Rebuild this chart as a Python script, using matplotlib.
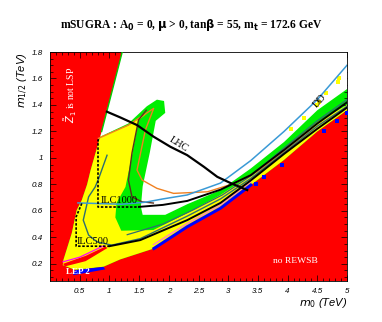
import numpy as np
import matplotlib
matplotlib.use("Agg")
import matplotlib.pyplot as plt

# --- region boundaries (m0, m1/2 in TeV) ---
# Z1-not-LSP edge (top to bottom)
edge_x = [1.216, 0.87, 0.684, 0.625, 0.535, 0.45, 0.367, 0.225, 0.215]
edge_y = [1.80, 1.20, 0.908, 0.80, 0.681, 0.606, 0.432, 0.228, 0.19]
# no-REWSB / LEP edge (left to right)
low_x = [0.215, 0.42, 0.90, 1.18, 1.75, 2.31, 2.87, 3.38, 3.94, 4.50, 5.00]
low_y = [0.19, 0.155, 0.178, 0.233, 0.316, 0.48, 0.62, 0.795, 0.985, 1.20, 1.36]

# white (too much relic density) region outline
white_x = [0.845, 1.32, 1.63, 1.80, 1.92, 1.94, 1.78, 1.68, 1.56, 1.53, 1.56, 1.94,
           2.31, 2.87, 3.38, 3.94, 4.50, 5.00, 5.00, 1.216, 0.87]
white_y = [1.16, 1.26, 1.39, 1.44, 1.43, 1.34, 1.28, 1.04, 0.785, 0.63, 0.57, 0.57,
           0.65, 0.757, 0.92, 1.12, 1.36, 1.52, 1.80, 1.80, 1.20]

# upper side of the yellow (WMAP) region, from the tongue down to the band
yel_x = [0.845, 1.32, 1.65, 1.49, 1.385, 1.27, 1.12, 1.10, 1.20, 1.74, 2.30, 2.87,
         3.38, 3.94, 4.50, 5.00]
yel_y = [1.16, 1.245, 1.34, 1.286, 1.03, 0.78, 0.66, 0.55, 0.45, 0.455, 0.58, 0.72,
         0.87, 1.07, 1.27, 1.40]

# LEP2 strip and red wedge in lower left
lep_x = [0.39, 0.93, 0.90, 0.42]
lep_y = [0.114, 0.158, 0.177, 0.152]
band_x = [0.22, 0.60, 0.93, 0.97, 0.60, 0.25]
band_y = [0.20, 0.26, 0.33, 0.32, 0.22, 0.18]
mag_x = [0.22, 0.50, 0.90]
mag_y = [0.215, 0.25, 0.335]

# contours
lhc_x = [0.958, 1.182, 1.465, 1.745, 2.027, 2.309, 2.590, 2.816, 3.04, 3.32]
lhc_y = [1.349, 1.306, 1.248, 1.160, 1.084, 1.021, 0.933, 0.857, 0.81, 0.757]
dd_x = [0.47, 1.2, 1.6, 1.9, 2.31, 2.87, 3.38, 3.94, 4.5, 5.0]
dd_y = [0.66, 0.65, 0.665, 0.69, 0.72, 0.81, 0.98, 1.20, 1.44, 1.70]
orange_x = [0.816, 1.32, 1.745, 1.605, 1.465, 1.55, 1.80, 2.08, 2.65, 3.10, 3.50, 3.94, 4.40]
orange_y = [1.148, 1.248, 1.374, 1.21, 0.908, 0.833, 0.77, 0.732, 0.744, 0.807, 0.90, 1.05, 1.22]
brown_x = [1.62, 1.49, 1.38, 1.32, 1.38, 1.55, 1.74]
brown_y = [1.36, 1.286, 1.037, 0.833, 0.706, 0.668, 0.659]
ilc1000_dx = [0.83, 0.816, 0.816, 1.50]
ilc1000_dy = [1.135, 1.135, 0.63, 0.63]
ilc1000_x = [1.50, 1.90, 2.31, 2.87, 3.38, 3.94, 4.50, 5.00]
ilc1000_y = [0.63, 0.645, 0.675, 0.76, 0.87, 1.06, 1.26, 1.42]
ilc500_dx = [0.535, 0.44, 0.44, 1.00]
ilc500_dy = [0.656, 0.555, 0.333, 0.333]
ilc500_x = [1.00, 1.52, 2.31, 2.87, 3.38, 3.94, 4.50, 5.00]
ilc500_y = [0.333, 0.379, 0.53, 0.66, 0.83, 1.03, 1.22, 1.38]
teal_x = [0.96, 0.82, 0.76, 0.65, 0.56, 0.65, 0.79, 1.04, 1.52, 2.31, 2.87, 3.38, 3.94, 4.5, 5.0]
teal_y = [1.02, 0.845, 0.78, 0.706, 0.53, 0.417, 0.366, 0.341, 0.39, 0.56, 0.69, 0.845, 1.04, 1.24, 1.39]
teal2_x = [1.30, 1.90, 2.40, 2.90, 3.40, 3.94, 4.5, 5.0]
teal2_y = [0.42, 0.50, 0.605, 0.72, 0.87, 1.075, 1.28, 1.44]
pink_x = [1.74, 2.31, 2.87, 3.38]
pink_y = [0.345, 0.505, 0.645, 0.82]

ydot_x = [4.84, 4.87, 4.65, 4.53, 4.50, 4.28, 4.05]
ydot_y = [1.575, 1.60, 1.49, 1.425, 1.40, 1.30, 1.22]
bdot_x = [3.46, 3.60, 3.91, 4.61, 4.83, 5.0]
bdot_y = [0.80, 0.857, 0.946, 1.205, 1.28, 1.337]

fig = plt.figure(figsize=(3.82, 3.22), dpi=100)
ax = fig.add_axes([0.1309, 0.1273, 0.7775, 0.7112])
ax.set_facecolor('#ff0000')

# allowed region (green base), then white, then yellow
allow_x = edge_x + low_x[1:] + [5.0]
allow_y = edge_y + low_y[1:] + [1.80]
ax.fill(allow_x, allow_y, color='#00ee00', lw=0, zorder=1)
ax.fill(white_x, white_y, color='white', lw=0, zorder=2)
yfill_x = yel_x + [5.0] + low_x[::-1] + edge_x[::-1][1:8]
yfill_y = yel_y + [1.36] + low_y[::-1] + edge_y[::-1][1:8]
ax.fill(yfill_x, yfill_y, color='#ffff00', lw=0, zorder=3)
ax.plot(edge_x[:2], edge_y[:2], color='#00cc00', lw=1.0, zorder=3)

ax.fill(band_x, band_y, color='#ff0000', lw=0, zorder=4)
ax.fill(lep_x, lep_y, color='#0000ff', lw=0, zorder=4)
ax.plot(mag_x, mag_y, color='#ff00ff', lw=0.9, zorder=5)
ax.plot(low_x[4:8], low_y[4:8], color='#0000ff', lw=2.2, zorder=4)
ax.plot(pink_x, pink_y, color='#ff77cc', lw=0.9, zorder=5)
ax.scatter(ydot_x, ydot_y, s=5, marker='s', color='#ffff00', lw=0, zorder=4)
ax.scatter(bdot_x, bdot_y, s=5, marker='s', color='#0000ff', lw=0, zorder=4)

ax.plot(orange_x, orange_y, color='#f08020', lw=1.0, zorder=6)
ax.plot(brown_x, brown_y, color='#5a3020', lw=1.0, zorder=6)
ax.plot(teal_x, teal_y, color='#2e6e70', lw=1.0, zorder=6)
ax.plot(teal2_x, teal2_y, color='#2e6e70', lw=0.9, zorder=6)
ax.plot(dd_x, dd_y, color='#3a9ad6', lw=1.1, zorder=6)
ax.plot(lhc_x, lhc_y, color='black', lw=1.6, zorder=7)
ax.plot(ilc1000_dx, ilc1000_dy, color='black', lw=1.2, ls=(0, (1.5, 1)), zorder=7)
ax.plot(ilc1000_x, ilc1000_y, color='black', lw=1.4, zorder=7)
ax.plot(ilc500_dx, ilc500_dy, color='black', lw=1.2, ls=(0, (1.5, 1)), zorder=7)
ax.plot(ilc500_x, ilc500_y, color='black', lw=1.4, zorder=7)

serif = 'Liberation Serif'
ax.text(2.16, 1.10, 'LHC', family=serif, fontsize=7.5, rotation=-32,
        ha='center', va='center', zorder=8)
ax.text(4.55, 1.43, 'DD', family=serif, fontsize=7.5, rotation=48,
        ha='center', va='center', zorder=8)
ax.text(0.86, 0.68, 'ILC1000', family=serif, fontsize=7.5, ha='left', va='center', zorder=8)
ax.text(0.45, 0.365, 'ILC500', family=serif, fontsize=7.5, ha='left', va='center', zorder=8)
ax.text(0.47, 0.14, 'LEP 2', family=serif, fontsize=6.5, color='white', weight='bold',
        ha='center', va='center', zorder=8)
ax.text(4.14, 0.224, 'no REWSB', family=serif, fontsize=6.8, color='white',
        ha='center', va='center', zorder=8)
ax.text(0.34, 1.475, r'$\tilde{Z}_1$ is not LSP', family=serif, fontsize=7,
        color='white', rotation=90, ha='center', va='center', zorder=8)

ax.set_xlim(0, 5)
ax.set_ylim(0.07, 1.8)
ax.set_xticks([0.5, 1, 1.5, 2, 2.5, 3, 3.5, 4, 4.5, 5])
ax.set_xticklabels(['0.5', '1', '1.5', '2', '2.5', '3', '3.5', '4', '4.5', '5'])
ax.set_yticks([0.2, 0.4, 0.6, 0.8, 1.0, 1.2, 1.4, 1.6, 1.8])
ax.set_yticklabels(['0.2', '0.4', '0.6', '0.8', '1', '1.2', '1.4', '1.6', '1.8'])
ax.set_xticks(np.arange(0.1, 5.0, 0.1), minor=True)
ax.set_yticks(np.arange(0.1, 1.8, 0.05), minor=True)
ax.tick_params(which='both', direction='in', top=True, right=True, width=0.5)
ax.tick_params(which='major', length=4, labelsize=5.8, pad=5)
ax.tick_params(which='minor', length=2)
for lab in ax.get_xticklabels() + ax.get_yticklabels():
    lab.set_family('Liberation Sans')
    lab.set_style('italic')
for sp in ax.spines.values():
    sp.set_linewidth(0.6)

ax.set_xlabel(r'$m_0$ (TeV)', family='Liberation Sans', style='italic', fontsize=8,
              loc='right', labelpad=1)
ax.set_ylabel(r'$m_{1/2}$ (TeV)', family='Liberation Sans', style='italic', fontsize=8,
              loc='top', labelpad=1)
fig.text(0.5, 0.922, r'mSUGRA : A$_\mathbf{0}$ = 0, $\mathbf{\mu}$ > 0, tan$\mathbf{\beta}$ = 55, m$_\mathbf{t}$ = 172.6 GeV',
         family=serif, weight='bold', fontsize=8.3, ha='center', va='center')

fig.savefig('out.png', dpi=100)
